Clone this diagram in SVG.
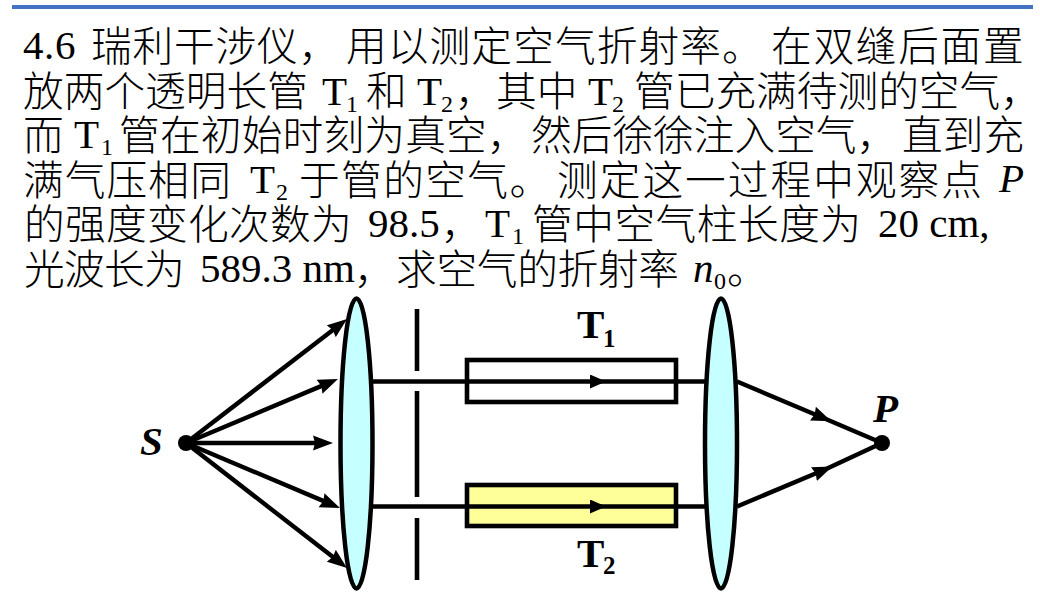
<svg xmlns="http://www.w3.org/2000/svg" width="1040" height="606" viewBox="0 0 1040 606">
<style>
.cn{font-family:"Noto Sans CJK SC","Noto Sans",sans-serif;font-size:40.7px;font-weight:300;fill:#000}
.la{font-family:"Liberation Serif",serif;font-size:41px;fill:#000}
.sub{font-family:"Liberation Serif",serif;font-size:24px;fill:#000}
.it{font-style:italic}
.lb{font-family:"Liberation Serif",serif;font-size:41px;font-weight:bold;fill:#000}
.lbs{font-family:"Liberation Serif",serif;font-size:25px;font-weight:bold;fill:#000}
.ray{stroke:#000;stroke-width:4.4;fill:none}
.lens{fill:#c6ffff;stroke:#000;stroke-width:4.5}
.tube{stroke:#000;stroke-width:4.6}
.dot{fill:#000}
</style>
<defs>
<marker id="ah" markerUnits="userSpaceOnUse" markerWidth="22" markerHeight="16" refX="12" refY="8" orient="auto"><path d="M0 0.5L20 8L0 15.5L2 8Z" fill="#000"/></marker>
<marker id="am" markerUnits="userSpaceOnUse" markerWidth="16" markerHeight="14" refX="16" refY="7" orient="auto"><path d="M0 0L16 7L0 14Z" fill="#000"/></marker>
</defs>
<rect width="1040" height="606" fill="#fff"/>
<rect id="rule" x="12" y="5" width="1021" height="4" fill="#4472c4"/>
<g id="problem-text">
<text class="la" x="23" y="59" letter-spacing=".6">4.6</text><text class="cn" x="91" y="61" letter-spacing=".8">瑞利干涉仪，</text><text class="cn" x="346" y="61" letter-spacing="1.1">用以测定空气折射率。</text><text class="cn" x="771" y="61" letter-spacing="1.7">在双缝后面置</text>
<text class="cn" x="23" y="106">放两个透明长管</text><text class="la" x="322" y="105">T</text><text class="sub" x="346" y="112">1</text><text class="cn" x="366" y="106">和</text><text class="la" x="417" y="105">T</text><text class="sub" x="441" y="112">2</text><text class="cn" x="455" y="106">，</text><text class="cn" x="496" y="106">其中</text><text class="la" x="588" y="105">T</text><text class="sub" x="612" y="112">2</text><text class="cn" x="634" y="106">管已充满待测的空气，</text>
<text class="cn" x="23" y="150">而</text><text class="la" x="74" y="148">T</text><text class="sub" x="101" y="155">1</text><text class="cn" x="119" y="150" letter-spacing=".2">管在初始时刻为真空，</text><text class="cn" x="531" y="150">然后徐徐注入空气，</text><text class="cn" x="902" y="150">直到充</text>
<text class="cn" x="23" y="195" letter-spacing="1.1">满气压相同</text><text class="la" x="250" y="193">T</text><text class="sub" x="276" y="200">2</text><text class="cn" x="299" y="195" letter-spacing="1.4">于管的空气。</text><text class="cn" x="557" y="195" letter-spacing="2">测定这一过程中观察点</text><text class="la it" x="999" y="192">P</text>
<text class="cn" x="24" y="239" letter-spacing=".3">的强度变化次数为</text><text class="la" x="368" y="237">98.5</text><text class="cn" x="441" y="239">，</text><text class="la" x="485" y="237">T</text><text class="sub" x="512" y="244">1</text><text class="cn" x="532" y="239" letter-spacing=".5">管中空气柱长度为</text><text class="la" x="878" y="237">20 cm,</text>
<text class="cn" x="24" y="284" letter-spacing="-.7">光波长为</text><text class="la" x="200" y="282">589.3 nm</text><text class="cn" x="354" y="284">，</text><text class="cn" x="396" y="284" letter-spacing="-.3">求空气的折射率</text><text class="la it" x="693" y="282">n</text><text class="sub" x="714" y="289">0</text><text class="cn" x="727" y="284">。</text>
</g>
<g id="connectors">
<path class="ray" d="M186 443L340.7 323.9" marker-end="url(#ah)"/>
<path class="ray" d="M186 443L330.6 382.1" marker-end="url(#ah)"/>
<path class="ray" d="M186 443L325 443" marker-end="url(#ah)"/>
<path class="ray" d="M186 443L332.6 504.9" marker-end="url(#ah)"/>
<path class="ray" d="M186 443L340.7 563.1" marker-end="url(#ah)"/>
<path class="ray" d="M737 381.5L824 418.2" marker-end="url(#ah)"/>
<path class="ray" d="M824 418.2L882 443"/>
<path class="ray" d="M737 506.5L825 469.5" marker-end="url(#ah)"/>
<path class="ray" d="M825 469.5L882 443"/>
</g>
<g id="slit"><path d="M417 309V371M417 391V497M417 518V580" stroke="#000" stroke-width="4.6" fill="none"/></g>
<g id="tube-T1"><rect class="tube" x="467" y="360" width="209" height="42" fill="#fff"/></g>
<g id="tube-T2"><rect class="tube" x="467" y="485" width="209" height="41" fill="#ffff99"/></g>
<g id="beams">
<path class="ray" d="M372 381.5H606" marker-end="url(#am)"/>
<path class="ray" d="M606 381.5H705"/>
<path class="ray" d="M372 506.5H606" marker-end="url(#am)"/>
<path class="ray" d="M606 506.5H705"/>
</g>
<g id="lens-1"><ellipse class="lens" cx="356.5" cy="443.5" rx="16" ry="145"/></g>
<g id="lens-2"><ellipse class="lens" cx="721" cy="443.5" rx="16" ry="145"/></g>
<g id="source-S"><circle class="dot" cx="186" cy="443" r="8"/><text class="lb it" x="140" y="455">S</text></g>
<g id="point-P"><circle class="dot" cx="882" cy="443" r="8"/><text class="lb it" x="873" y="422">P</text></g>
<g id="label-T1"><text class="lb" x="577" y="338">T</text><text class="lbs" x="603" y="347">1</text></g>
<g id="label-T2"><text class="lb" x="577" y="567">T</text><text class="lbs" x="603" y="574">2</text></g>
</svg>
